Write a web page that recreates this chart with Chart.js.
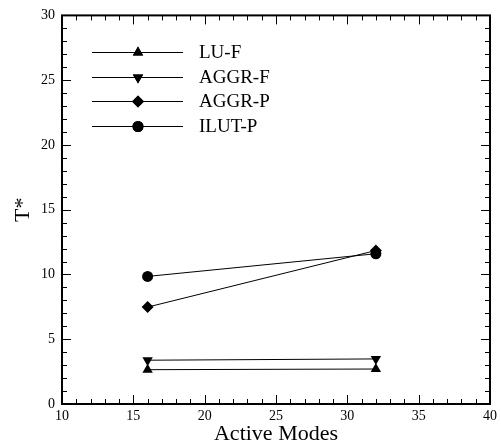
<!DOCTYPE html>
<html>
<head>
<meta charset="utf-8">
<script src="https://cdn.jsdelivr.net/npm/chart.js@4/dist/chart.umd.min.js"></script>
<style>
html,body{margin:0;padding:0;background:#fff;}
canvas{display:block;}
</style>
</head>
<body>
<canvas id="myChart" width="501" height="448"></canvas>
<script>
var modos=[16,32];
var luF=[2.65,2.7];
var aggrF=[3.38,3.48];
var aggrP=[7.48,11.85];
var ilutP=[9.85,11.6];
var nombres=['LU-F','AGGR-F','AGGR-P','ILUT-P'];
var xTicks=[10,15,20,25,30,35,40];
var yTicks=[0,5,10,15,20,25,30];

var fuente='"Liberation Serif","Times New Roman",serif';

function puntos(v){
	var r=[];
	for(var i=0;i<modos.length;i++){ r.push({x:modos[i],y:v[i]}); }
	return r;
}

// marco con ticks hacia dentro y leyenda
var marco={
	id:'marco',
	afterDatasetsDraw:function(chart){
		var c=chart.ctx, a=chart.chartArea;
		var sx=chart.scales.x, sy=chart.scales.y;
		c.save();
		c.strokeStyle='#000';
		c.lineWidth=1;
		c.beginPath();
		for(var v=xTicks[0];v<=xTicks[xTicks.length-1];v++){
			var px=Math.round(sx.getPixelForValue(v))+0.5;
			var L=(v%5==0)?9:5;
			c.moveTo(px,a.bottom);c.lineTo(px,a.bottom-L);
			c.moveTo(px,a.top);c.lineTo(px,a.top+L);
		}
		for(var v=yTicks[0];v<=yTicks[yTicks.length-1];v++){
			var py=Math.round(sy.getPixelForValue(v))+0.5;
			var L=(v%5==0)?9:5;
			c.moveTo(a.left,py);c.lineTo(a.left+L,py);
			c.moveTo(a.right,py);c.lineTo(a.right-L,py);
		}
		c.stroke();
		c.lineWidth=2;
		c.strokeRect(a.left,a.top,a.right-a.left,a.bottom-a.top);

		// leyenda
		var x0=92,x1=183,xm=138,yy=52,dy=24.7;
		c.font='19px '+fuente;
		c.textBaseline='middle';
		c.fillStyle='#000';
		for(var i=0;i<chart.data.datasets.length;i++){
			var ds=chart.data.datasets[i];
			var y=Math.round(yy+i*dy)+0.5;
			c.lineWidth=1;
			c.beginPath();c.moveTo(x0,y);c.lineTo(x1,y);c.stroke();
			Chart.helpers.drawPoint(c,{pointStyle:ds.pointStyle,rotation:ds.rotation||0,radius:ds.pointRadius,borderWidth:0},xm,y);
			c.fill();
			c.fillText(ds.label,199,y+1);
		}
		c.restore();
	}
};

function serie(nombre,datos,estilo,radio,rot){
	return {
		label:nombre,
		data:puntos(datos),
		borderColor:'#000',
		backgroundColor:'#000',
		borderWidth:1,
		pointStyle:estilo,
		pointRadius:radio,
		pointHoverRadius:radio,
		pointBorderWidth:0,
		rotation:rot||0,
		showLine:true,
		tension:0
	};
}

var ctx=document.getElementById("myChart").getContext("2d");
var grafico=new Chart(ctx,{
	type:'scatter',
	data:{
		datasets:[
			serie(nombres[0],luF,'triangle',6,0),
			serie(nombres[1],aggrF,'triangle',6,180),
			serie(nombres[2],aggrP,'rectRot',6,0),
			serie(nombres[3],ilutP,'circle',5.5,0)
		]
	},
	options:{
		responsive:false,
		animation:false,
		layout:{padding:{top:14,right:9,left:0,bottom:0}},
		plugins:{legend:{display:false},tooltip:{enabled:false}},
		scales:{
			x:{
				type:'linear',min:10,max:40,
				afterBuildTicks:function(s){ s.ticks=xTicks.map(function(v){return {value:v};}); },
				afterFit:function(s){ s.height=44; },
				grid:{display:false,drawTicks:false},
				border:{display:false},
				ticks:{color:'#000',padding:4,maxRotation:0,font:{family:fuente,size:14}},
				title:{display:true,text:'Active Modes',color:'#000',padding:{top:0,bottom:1},font:{family:fuente,size:22}}
			},
			y:{
				type:'linear',min:0,max:30,
				afterBuildTicks:function(s){ s.ticks=yTicks.map(function(v){return {value:v};}); },
				afterFit:function(s){ s.width=62; },
				grid:{display:false,drawTicks:false},
				border:{display:false},
				ticks:{color:'#000',padding:7,font:{family:fuente,size:14}},
				title:{display:true,text:'T*',color:'#000',padding:{top:10,bottom:0},font:{family:fuente,size:22}}
			}
		}
	},
	plugins:[marco]
});
</script>
</body>
</html>
